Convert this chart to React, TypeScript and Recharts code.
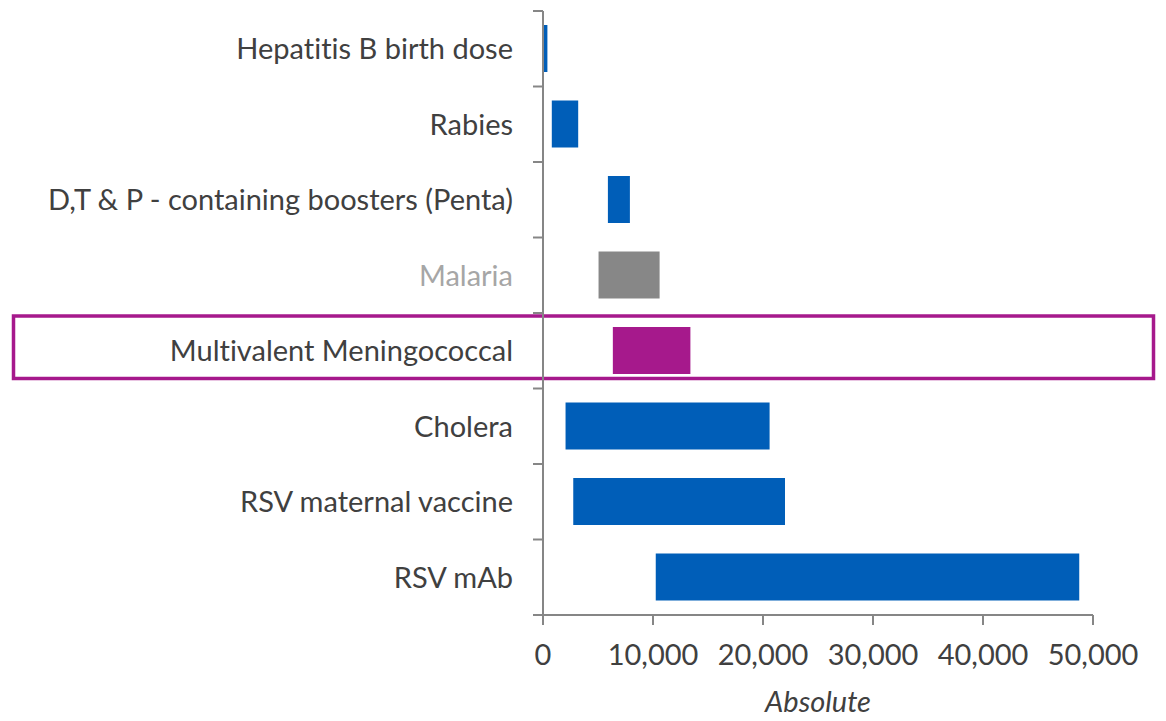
import { Bar, BarChart, Cell, ReferenceArea, XAxis, YAxis } from 'recharts';

const VACCINES = [
  'Hepatitis B birth dose',
  'Rabies',
  'D,T & P - containing boosters (Penta)',
  'Malaria',
  'Multivalent Meningococcal',
  'Cholera',
  'RSV maternal vaccine',
  'RSV mAb',
];
const LOW = [0, 800, 5900, 5050, 6350, 2050, 2750, 10250];
const HIGH = [400, 3200, 7900, 10600, 13400, 20600, 22000, 48750];
const X_TICKS = [0, 10000, 20000, 30000, 40000, 50000];
const HIGHLIGHT = 'Multivalent Meningococcal';
const MUTED = 'Malaria';

const W = 1166;
const H = 721;
const MARGIN = { top: 11, right: 73, bottom: 0, left: 0 };
const Y_AXIS_W = 543;
const X_AXIS_H = 106;
const BAND = (H - MARGIN.top - MARGIN.bottom - X_AXIS_H) / VACCINES.length;

const FONT = 'Lato, "Open Sans", sans-serif';
const FONT_SIZE = 29;
const TEXT = '#404040';
const AXIS = '#868686';
const BLUE = '#005EB8';
const GREY = '#878787';
const MAGENTA = '#A6198C';

const data = VACCINES.map((name, i) => ({ name, range: [LOW[i], HIGH[i]] }));

function barColor(name: string) {
  if (name === HIGHLIGHT) return MAGENTA;
  if (name === MUTED) return GREY;
  return BLUE;
}

function CategoryTick(props: any) {
  const { x, y, payload, index } = props;
  const axisX = x + 30;
  const top = y - BAND / 2;
  const last = index === VACCINES.length - 1;
  return (
    <g>
      <line x1={axisX - 10} x2={axisX} y1={top} y2={top} stroke={AXIS} strokeWidth={2} />
      {last && (
        <line x1={axisX - 10} x2={axisX} y1={y + BAND / 2} y2={y + BAND / 2} stroke={AXIS} strokeWidth={2} />
      )}
      <text
        x={x}
        y={y}
        dy="0.36em"
        textAnchor="end"
        fontFamily={FONT}
        fontSize={FONT_SIZE}
        style={{ fontVariantLigatures: 'none' }}
        fill={payload.value === MUTED ? '#A6A6A6' : TEXT}
      >
        {payload.value}
      </text>
    </g>
  );
}

function HighlightBox(props: any) {
  const { y, height } = props;
  return (
    <rect
      x={13.5}
      y={y + 3}
      width={1140}
      height={height - 13}
      fill="none"
      stroke={MAGENTA}
      strokeWidth={3.5}
    />
  );
}

export default function App() {
  return (
    <div style={{ position: 'absolute', left: 0, top: 0, width: W, height: H, background: '#fff' }}>
      <BarChart width={W} height={H} data={data} layout="vertical" margin={MARGIN}>
        <XAxis
          type="number"
          domain={[0, 50000]}
          ticks={X_TICKS}
          interval={0}
          height={X_AXIS_H}
          tickFormatter={(v: number) => v.toLocaleString('en-US')}
          tick={{ fill: TEXT, fontSize: FONT_SIZE, fontFamily: FONT }}
          tickSize={10}
          tickMargin={19}
          axisLine={{ stroke: AXIS, strokeWidth: 2 }}
          tickLine={{ stroke: AXIS, strokeWidth: 2 }}
          label={{
            value: 'Absolute',
            position: 'insideBottom',
            offset: 9,
            fill: TEXT,
            fontSize: FONT_SIZE,
            fontFamily: FONT,
            fontStyle: 'italic',
          }}
        />
        <YAxis
          type="category"
          dataKey="name"
          width={Y_AXIS_W}
          interval={0}
          tickSize={0}
          tickMargin={30}
          tickLine={false}
          tick={<CategoryTick />}
          axisLine={{ stroke: AXIS, strokeWidth: 2 }}
        />
        <Bar dataKey="range" barSize={47} isAnimationActive={false}>
          {data.map((d) => (
            <Cell key={d.name} fill={barColor(d.name)} />
          ))}
        </Bar>
        <ReferenceArea
          y1={HIGHLIGHT}
          y2={HIGHLIGHT}
          x1={0}
          x2={50000}
          ifOverflow="visible"
          shape={<HighlightBox />}
        />
      </BarChart>
    </div>
  );
}
